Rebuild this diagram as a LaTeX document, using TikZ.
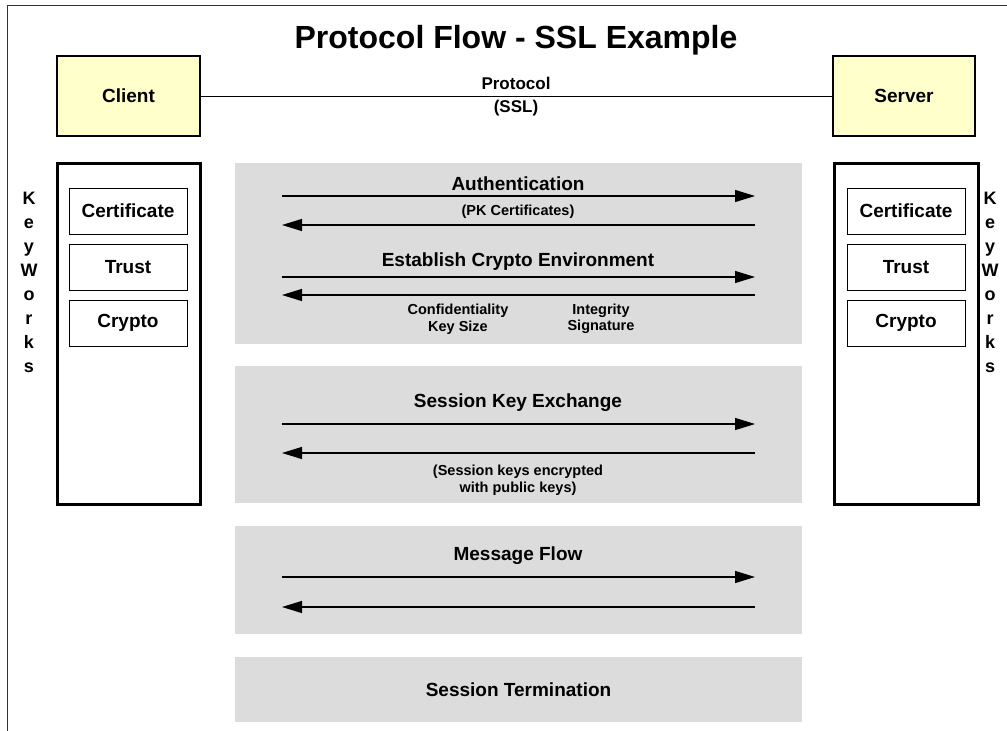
\documentclass[tikz,border=0pt]{standalone}
\usepackage{fontspec}
\setmainfont{Liberation Sans}
\usetikzlibrary{arrows.meta}
\definecolor{panelgray}{RGB}{220,220,220}
\definecolor{paleyellow}{RGB}{255,255,204}
\begin{document}
\begin{tikzpicture}[x=1pt,y=-1pt,
  bigtxt/.style={font=\bfseries\fontsize{19}{22}\selectfont},
  smalltxt/.style={font=\bfseries\fontsize{14.5}{16.5}\selectfont, align=center, inner sep=0pt},
  endbox/.style={draw, line width=1.2pt, fill=paleyellow, minimum width=143pt, minimum height=80pt, bigtxt},
  keybox/.style={draw, line width=3pt, minimum width=143pt, minimum height=341pt},
  itembox/.style={draw, line width=1pt, minimum width=118pt, minimum height=46pt, bigtxt},
  panel/.style={fill=panelgray, draw=none, minimum width=567pt},
  flow/.style={line width=1.3pt, -{Triangle[length=20pt,width=12pt]}},
  vtext/.style={font=\bfseries\fontsize{18}{24}\selectfont, align=center, inner sep=0pt}]
\useasboundingbox (0,0) rectangle (1007,731);

% page frame
\draw[line width=1.5pt, black!80] (7.5,731) -- (7.5,5.5) -- (1007,5.5);

% title
\node[font=\bfseries\fontsize{32}{38}\selectfont] (title) at (516,40) {Protocol Flow - SSL Example};

% end points and protocol link
\node[endbox] (client) at (128.5,96) {Client};
\node[endbox, minimum width=142pt] (server) at (904,96) {Server};
\draw[line width=1pt] (client.east) -- (server.west);
\node[font=\bfseries\fontsize{17}{20}\selectfont] (proto) at (516,83) {Protocol};
\node[font=\bfseries\fontsize{17}{20}\selectfont] (ssl) at (516,108) {(SSL)};

% KeyWorks columns
\node[keybox] (lkw) at (128.5,333.5) {};
\node[itembox] (lcert) at (128,211) {Certificate};
\node[itembox] (ltrust) at (128,267) {Trust};
\node[itembox] (lcrypto) at (128,323) {Crypto};
\node[vtext] (lkwlabel) at (29,282.5) {K\\e\\y\\W\\o\\r\\k\\s};

\node[keybox, minimum width=144pt] (rkw) at (906,333.5) {};
\node[itembox] (rcert) at (906,211) {Certificate};
\node[itembox] (rtrust) at (906,267) {Trust};
\node[itembox] (rcrypto) at (906,323) {Crypto};
\node[vtext] (rkwlabel) at (990,282.5) {K\\e\\y\\W\\o\\r\\k\\s};

% phase panels
\node[panel, minimum height=181pt] (p1) at (518.5,253.5) {};
\node[panel, minimum height=137pt] (p2) at (518.5,434.5) {};
\node[panel, minimum height=108pt] (p3) at (518.5,580) {};
\node[panel, minimum height=65pt, bigtxt] (p4) at (518.5,689.5) {Session Termination};

% arrow end points
\coordinate (a1w) at (282,196); \coordinate (a1e) at (755,196);
\coordinate (b1w) at (282,225); \coordinate (b1e) at (755,225);
\coordinate (a2w) at (282,277); \coordinate (a2e) at (755,277);
\coordinate (b2w) at (282,295); \coordinate (b2e) at (755,295);
\coordinate (a3w) at (282,424); \coordinate (a3e) at (755,424);
\coordinate (b3w) at (282,453); \coordinate (b3e) at (755,453);
\coordinate (a4w) at (282,577); \coordinate (a4e) at (755,577);
\coordinate (b4w) at (282,607); \coordinate (b4e) at (755,607);

% authentication and crypto environment
\draw[flow] (a1w) -- (a1e);
\draw[flow] (b1e) -- (b1w);
\node[bigtxt] (auth) at (518,184) {Authentication};
\node[smalltxt] (pk) at (518,212) {(PK Certificates)};
\draw[flow] (a2w) -- (a2e);
\draw[flow] (b2e) -- (b2w);
\node[bigtxt] (env) at (518,262) {Establish Crypto Environment};
\node[smalltxt] (conf) at (458,319) {Confidentiality\\Key Size};
\node[smalltxt] (integ) at (601,319) {Integrity\\Signature};

% session key exchange
\draw[flow] (a3w) -- (a3e);
\draw[flow] (b3e) -- (b3w);
\node[bigtxt] (ske) at (518,403) {Session Key Exchange};
\node[smalltxt] (enc) at (518,480) {(Session keys encrypted\\with public keys)};

% message flow
\draw[flow] (a4w) -- (a4e);
\draw[flow] (b4e) -- (b4w);
\node[bigtxt] (msg) at (518,556) {Message Flow};
\end{tikzpicture}
\end{document}
